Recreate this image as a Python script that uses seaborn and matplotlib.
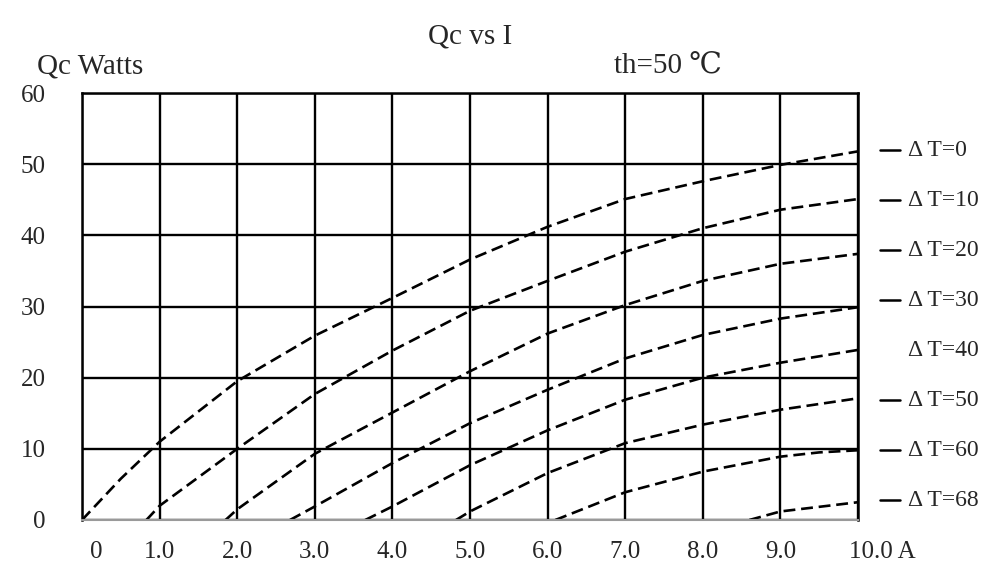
"""
Qc vs I  —  cooling power curves for a Peltier module (th = 50 C)
"""

# ─── 1. IMPORTS ──────────────────────────────────────────────────────────────
import numpy as np
import pandas as pd
import matplotlib
matplotlib.use("Agg")
import matplotlib.pyplot as plt
import matplotlib.transforms as mtransforms
import seaborn as sns

# ─── 2. DATA ────────────────────────────────────────────────────────────────
dt_names = ["Δ T=0", "Δ T=10", "Δ T=20", "Δ T=30",
            "Δ T=40", "Δ T=50", "Δ T=60", "Δ T=68"]
has_dash = [True, True, True, True, False, True, True, True]

i_dt0 = [0, 0.5, 1, 2, 3, 4, 5, 6, 7, 8, 9, 10]
qc_dt0 = [0, 5.8, 11.0, 19.5, 25.9, 31.2, 36.6, 41.2, 45.1, 47.6, 49.9, 51.8]

i_dt10 = [0.83, 1, 2, 3, 4, 5, 6, 7, 8, 9, 10]
qc_dt10 = [0, 2.0, 10.0, 17.7, 23.8, 29.4, 33.6, 37.7, 41.0, 43.6, 45.1]

i_dt20 = [1.85, 2, 3, 4, 5, 6, 7, 8, 9, 10]
qc_dt20 = [0, 1.5, 9.3, 15.1, 20.9, 26.2, 30.2, 33.6, 36.0, 37.4]

i_dt30 = [2.68, 3, 4, 5, 6, 7, 8, 9, 10]
qc_dt30 = [0, 1.9, 8.0, 13.6, 18.3, 22.7, 26.0, 28.3, 29.9]

i_dt40 = [3.65, 4, 5, 6, 7, 8, 9, 10]
qc_dt40 = [0, 1.9, 7.7, 12.6, 16.9, 20.0, 22.1, 23.9]

i_dt50 = [4.82, 5, 6, 7, 8, 9, 10]
qc_dt50 = [0, 1.2, 6.6, 10.8, 13.4, 15.5, 17.1]

i_dt60 = [6.1, 7, 8, 9, 9.5, 10]
qc_dt60 = [0, 3.9, 6.8, 8.9, 9.5, 9.8]

i_dt68 = [8.6, 9, 10]
qc_dt68 = [0, 1.2, 2.5]

x_ticklabels = ["0", "1.0", "2.0", "3.0", "4.0", "5.0",
                "6.0", "7.0", "8.0", "9.0", "10.0 A"]
y_ticks = [0, 10, 20, 30, 40, 50, 60]

all_i = [i_dt0, i_dt10, i_dt20, i_dt30, i_dt40, i_dt50, i_dt60, i_dt68]
all_qc = [qc_dt0, qc_dt10, qc_dt20, qc_dt30, qc_dt40, qc_dt50, qc_dt60, qc_dt68]

df = pd.concat(
    [pd.DataFrame({"I": xi, "Qc": yi, "dT": name})
     for xi, yi, name in zip(all_i, all_qc, dt_names)],
    ignore_index=True)

# ─── 3. STYLE ────────────────────────────────────────────────────────────────
sns.set_theme(style="white")
plt.rcParams["font.family"] = ["Liberation Serif", "DejaVu Serif"]

W, H = 995, 584
fig = plt.figure(figsize=(W / 100, H / 100), dpi=100)
ax = fig.add_axes([82 / W, 1 - 520 / H, (858 - 82) / W, (520 - 93) / H])

# ─── 4. CURVES ───────────────────────────────────────────────────────────────
sns.lineplot(data=df, x="I", y="Qc", hue="dT", palette=["black"] * len(dt_names),
             legend=False, linewidth=1.9, sort=False, estimator=None, ax=ax)
for line in ax.lines:
    line.set_dashes([4.5, 2.2])

# grid / frame
ax.set_xlim(0, 10)
ax.set_ylim(0, 60)
ax.set_xticks(range(11))
ax.set_yticks(y_ticks)
ax.grid(True, color="black", linewidth=1.7)
for side in ["top", "left", "right"]:
    ax.spines[side].set_color("black")
    ax.spines[side].set_linewidth(1.8)
ax.spines["bottom"].set_color("#9a9a9a")
ax.spines["bottom"].set_linewidth(1.5)
ax.set_axisbelow(True)

ax.set_xticklabels(x_ticklabels, fontsize=18)
ax.set_yticklabels([str(v) for v in y_ticks], fontsize=18)
ax.tick_params(axis="x", length=0, pad=15)
ax.tick_params(axis="y", length=0, pad=26)
ax.set_xlabel("")
ax.set_ylabel("")

# nudge first and last x labels like the original
labs = ax.get_xticklabels()
labs[0].set_transform(labs[0].get_transform() +
                      mtransforms.ScaledTranslation(14 / 100, 0, fig.dpi_scale_trans))
labs[-1].set_transform(labs[-1].get_transform() +
                       mtransforms.ScaledTranslation(24 / 100, 0, fig.dpi_scale_trans))

# ─── 5. SERIES LABELS ON THE RIGHT ───────────────────────────────────────────
for k, (name, dash) in enumerate(zip(dt_names, has_dash)):
    yfrac = (520 - (150 + 50 * k)) / (520 - 93)
    if dash:
        ax.plot([1.0 + 22 / 776, 1.0 + 42 / 776], [yfrac, yfrac], color="black",
                lw=1.8, transform=ax.transAxes, clip_on=False)
    ax.text(1.0 + 50 / 776, yfrac, name, transform=ax.transAxes,
            ha="left", va="center", fontsize=17)

# ─── 6. TITLES ───────────────────────────────────────────────────────────────
fig.text(470 / W, 1 - 37 / H, "Qc vs I", ha="center", va="center", fontsize=21)
fig.text(37 / W, 1 - 66 / H, "Qc Watts", ha="left", va="center", fontsize=21)
fig.text(668 / W, 1 - 66 / H, "th=50 ℃", ha="center", va="center", fontsize=21)

fig.savefig("out.png", dpi=100, facecolor="white")
plt.close(fig)
